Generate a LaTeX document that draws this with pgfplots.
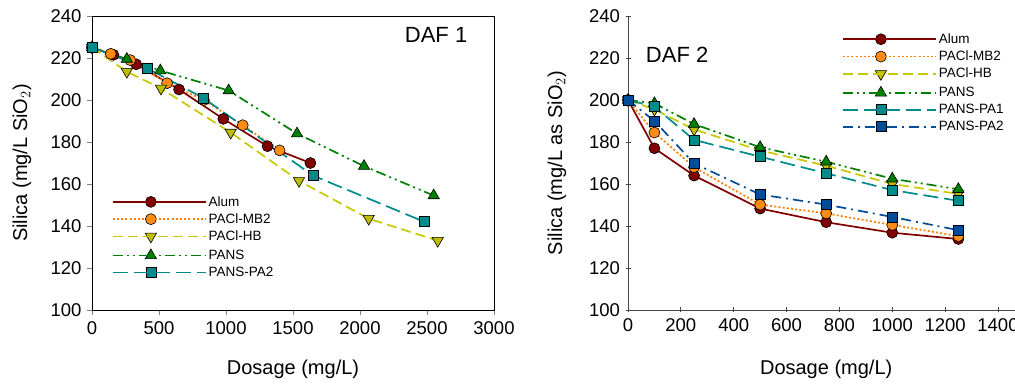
\documentclass[border=0pt]{standalone}
\usepackage{fontspec}
\setmainfont{Liberation Sans}
\usepackage{pgfplots}
\pgfplotsset{compat=1.18}
\definecolor{calum}{RGB}{128,0,0}
\definecolor{cmb}{RGB}{255,128,0}
\definecolor{cmbf}{RGB}{255,140,20}
\definecolor{chb}{RGB}{200,200,0}
\definecolor{chbf}{RGB}{190,190,0}
\definecolor{cpans}{RGB}{0,128,0}
\definecolor{cpa}{RGB}{0,139,139}
\definecolor{cpb}{RGB}{0,76,153}
\definecolor{axgray}{RGB}{70,70,70}
\pgfplotsset{
  common/.style={
    scale only axis, height=294pt,
    ymin=100, ymax=240, ytick={100,120,...,240},
    tick align=outside, major tick length=5pt,
    tick style={line width=0.8pt},
    xtick pos=left, ytick pos=left,
    tick label style={font=\fontsize{18.5}{20}\selectfont},
    yticklabel style={xshift=-2pt},
    xticklabel style={yshift=-3pt},
    label style={font=\fontsize{20}{22}\selectfont},
    /pgf/number format/assume math mode=true,
    /pgf/number format/set thousands separator={},
    legend cell align=left,
    legend style={draw=none, fill=none, inner sep=0pt, outer sep=0pt,
      row sep=6pt, font=\fontsize{13.5}{15}\selectfont,
      nodes={inner xsep=2pt, inner ysep=0pt}},
    legend image code/.code={%
      \draw[mark repeat=2,mark phase=2] plot coordinates {(0pt,0pt)(38pt,0pt)(76pt,0pt)};
      \path (0pt,0pt) -- (93pt,0pt);},
  },
  salum/.style={calum, line width=1.7pt, solid, mark=*, mark size=5.5pt, mark options={solid, draw=black, line width=0.6pt, fill=calum}},
  smb/.style={cmb, line width=1.7pt, dash pattern=on 2pt off 2.2pt, mark=*, mark size=5.5pt, mark options={solid, draw=black, line width=0.6pt, fill=cmbf}},
  shb/.style={chb, line width=1.7pt, dash pattern=on 10pt off 5pt, mark=triangle*, mark size=6.5pt, mark options={solid, rotate=180, draw=black, line width=0.6pt, fill=chbf}},
  spans/.style={cpans, line width=1.7pt, dash pattern=on 10pt off 4pt on 2pt off 4pt on 2pt off 4pt, mark=triangle*, mark size=6.5pt, mark options={solid, draw=black, line width=0.6pt, fill=cpans}},
  spa/.style={cpa, line width=1.7pt, dash pattern=on 15pt off 6pt, mark=square*, mark size=5pt, mark options={solid, draw=black, line width=0.6pt, fill=cpa}},
  spb/.style={cpb, line width=1.7pt, dash pattern=on 10pt off 5pt on 2pt off 5pt, mark=square*, mark size=5pt, mark options={solid, draw=black, line width=0.6pt, fill=cpb}},
}
\begin{document}
\begin{tikzpicture}
\begin{axis}[common, width=402pt, at={(0pt,0pt)}, anchor=south west,
  xmin=0, xmax=3000, xtick={0,500,...,3000},
  xlabel={Dosage (mg/L)}, ylabel={Silica (mg/L SiO$_2$)},
  xlabel style={at={(axis description cs:0.5,-0.221)}, anchor=base},
  ylabel style={at={(axis description cs:-0.174,0.5)}, anchor=center, rotate=0},
  legend style={at={(rel axis cs:0.0498,0.387)}, anchor=north west},
]
\addplot[salum] coordinates {(0,225)(160,221.5)(330,217)(650,205)(980,191)(1310,178)(1630,170)};
\addlegendentry{Alum}
\addplot[smb] coordinates {(0,225)(140,222)(285,219)(560,208)(835,200)(1125,188)(1400,176)};
\addlegendentry{PACl-MB2}
\addplot[shb] coordinates {(0,225)(260,213.5)(515,205.5)(1035,184.5)(1545,161.5)(2065,143.5)(2580,133)};
\addlegendentry{PACl-HB}
\addplot[spans] coordinates {(0,225)(260,219.5)(510,214)(1020,204.5)(1530,184)(2030,168.5)(2550,154.5)};
\addlegendentry{PANS}
\addplot[spa] coordinates {(0,225)(415,215)(830,201)(1650,164)(2480,142)};
\addlegendentry{PANS-PA2}
\node[font=\fontsize{22}{24}\selectfont] at (rel axis cs:0.856,0.935) {DAF 1};
\end{axis}
\begin{axis}[common, width=396.4pt, at={(536pt,0pt)}, anchor=south west,
  axis lines=left, axis line style={-, draw=axgray, line width=0.8pt},
  tick style={axgray},
  xmin=0, xmax=1500, xtick={0,200,...,1400},
  xlabel={Dosage (mg/L)}, ylabel={Silica (mg/L as SiO$_2$)},
  xlabel style={at={(axis description cs:0.5,-0.221)}, anchor=base},
  ylabel style={at={(axis description cs:-0.179,0.5)}, anchor=center, rotate=0},
  legend style={at={(rel axis cs:0.540,0.94)}, anchor=north west},
]
\addplot[salum] coordinates {(0,200)(100,177)(250,164)(500,148.3)(750,141.8)(1000,136.8)(1250,133.8)};
\addlegendentry{Alum}
\addplot[smb] coordinates {(0,200)(100,184.5)(250,168)(500,150.2)(750,146)(1000,140.5)(1250,135.2)};
\addlegendentry{PACl-MB2}
\addplot[shb] coordinates {(0,200)(100,195.5)(250,186)(500,176)(750,168.7)(1000,160)(1250,155.3)};
\addlegendentry{PACl-HB}
\addplot[spans] coordinates {(0,200)(100,198.4)(250,188.5)(500,177.5)(750,170.6)(1000,162.5)(1250,157.5)};
\addlegendentry{PANS}
\addplot[spa] coordinates {(0,200)(100,196.8)(250,181)(500,173)(750,165.1)(1000,157.1)(1250,152)};
\addlegendentry{PANS-PA1}
\addplot[spb] coordinates {(0,200)(100,190)(250,169.8)(500,155)(750,150.2)(1000,144.3)(1250,138)};
\addlegendentry{PANS-PA2}
\node[font=\fontsize{22}{24}\selectfont] at (rel axis cs:0.124,0.867) {DAF 2};
\end{axis}
\pgfresetboundingbox
\path (-92pt,-75pt) rectangle (923pt,310pt);
\end{tikzpicture}
\end{document}
